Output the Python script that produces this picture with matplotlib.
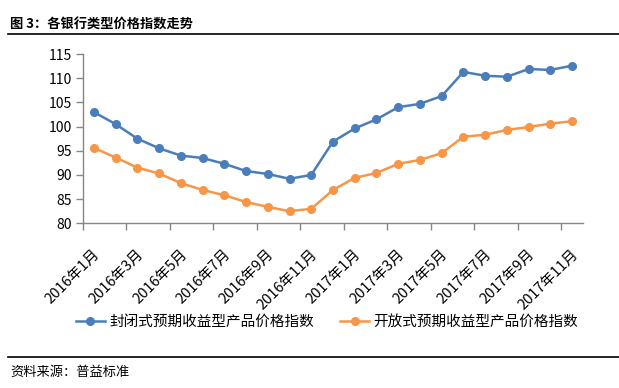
import matplotlib
matplotlib.use("Agg")
import matplotlib.pyplot as plt
from matplotlib.lines import Line2D
from matplotlib.transforms import ScaledTranslation

plt.rcParams['font.family'] = ['Noto Sans CJK SC', 'DejaVu Sans']

months = ["2016年1月", "2016年2月", "2016年3月", "2016年4月", "2016年5月", "2016年6月",
          "2016年7月", "2016年8月", "2016年9月", "2016年10月", "2016年11月", "2016年12月",
          "2017年1月", "2017年2月", "2017年3月", "2017年4月", "2017年5月", "2017年6月",
          "2017年7月", "2017年8月", "2017年9月", "2017年10月", "2017年11月"]
closed_idx = [103.0, 100.5, 97.5, 95.5, 94.0, 93.5, 92.3, 90.8, 90.2, 89.2, 90.0,
              96.9, 99.6, 101.5, 104.0, 104.7, 106.3, 111.3, 110.5, 110.3, 111.9, 111.7, 112.6]
open_idx = [95.6, 93.6, 91.5, 90.3, 88.3, 86.9, 85.8, 84.4, 83.4, 82.5, 83.0,
            86.9, 89.4, 90.4, 92.3, 93.1, 94.5, 97.9, 98.3, 99.3, 99.9, 100.6, 101.1]
series_names = ["封闭式预期收益型产品价格指数", "开放式预期收益型产品价格指数"]
yticks = [80, 85, 90, 95, 100, 105, 110, 115]
title = "图 3：各银行类型价格指数走势"
source = "资料来源：普益标准"

blue = "#4A7EBB"
orange = "#F79646"
axis_gray = "#868686"

W, H = 619, 388
fig = plt.figure(figsize=(W / 100, H / 100), dpi=100)
ax = fig.add_axes([83 / W, 1 - 223.3 / H, 500 / W, 169.3 / H])

x = list(range(len(months)))
ax.plot(x, closed_idx, color=blue, lw=1.8, marker='o', ms=5.5, label=series_names[0], zorder=3)
ax.plot(x, open_idx, color=orange, lw=1.8, marker='o', ms=5.5, label=series_names[1], zorder=3)

ax.set_xlim(-0.5, len(months) - 0.5)
ax.set_ylim(80, 115)
ax.set_yticks(yticks)
ax.set_yticklabels([str(v) for v in yticks], fontsize=10)
ax.tick_params(axis='y', direction='out', length=5, color=axis_gray, width=1, pad=3)

# major ticks at category boundaries (every 2 categories), labels on minor ticks at categories
ax.set_xticks([i - 0.5 for i in range(0, len(months), 2)])
ax.set_xticklabels([])
ax.set_xticks(x[::2], minor=True)
ax.set_xticklabels(months[::2], minor=True, rotation=45, ha='right', va='top',
                   rotation_mode='anchor', fontsize=10.5)
ax.tick_params(axis='x', which='major', direction='out', length=5, color=axis_gray, width=1)
ax.tick_params(axis='x', which='minor', length=0, pad=17)
off = ScaledTranslation(-1 / 100, 0, fig.dpi_scale_trans)
for lab in ax.get_xticklabels(minor=True):
    lab.set_transform(lab.get_transform() + off)

for s in ['top', 'right']:
    ax.spines[s].set_visible(False)
for s in ['left', 'bottom']:
    ax.spines[s].set_color(axis_gray)
    ax.spines[s].set_linewidth(1)

handles = [Line2D([], [], color=blue, lw=1.8, marker='o', ms=5.5),
           Line2D([], [], color=orange, lw=1.8, marker='o', ms=5.5)]
fig.legend(handles, series_names, loc='center', bbox_to_anchor=(327 / W, 1 - 322 / H),
           ncol=2, frameon=False, fontsize=10.5, handlelength=2.0, handletextpad=0.3,
           columnspacing=1.8)

# title and source with rules
fig.text(10 / W, 1 - 25 / H, title, fontsize=9.5, fontweight='bold', va='center', ha='left')
fig.add_artist(Line2D([8 / W, 619 / W], [1 - 34 / H, 1 - 34 / H], color='black', lw=1.2))
fig.add_artist(Line2D([8 / W, 619 / W], [1 - 356.5 / H, 1 - 356.5 / H], color='black', lw=1.2))
fig.text(10 / W, 1 - 372 / H, source, fontsize=9.5, va='center', ha='left')

fig.savefig("out.png", dpi=100)
